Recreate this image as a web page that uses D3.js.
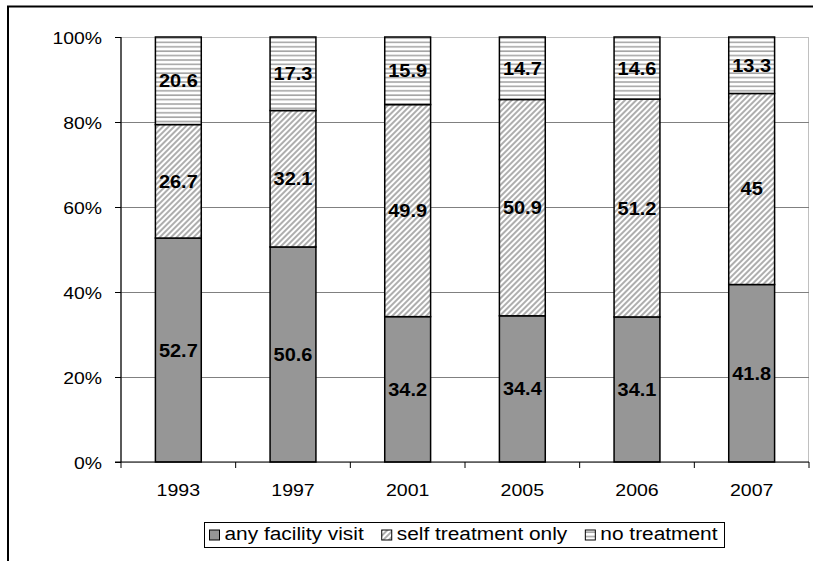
<!DOCTYPE html>
<html>
<head>
<meta charset="utf-8">
<script src="https://cdn.jsdelivr.net/npm/d3@7"></script>
<style>
  html, body { margin: 0; padding: 0; background: #fff; }
  svg text { font-family: "Liberation Sans", Arial, sans-serif; fill: #000; }
</style>
</head>
<body>
<svg id="chart" width="813" height="561"></svg>
<script>
// Survey years and the share of episodes by treatment type (percent)
const years = ["1993", "1997", "2001", "2005", "2006", "2007"];
const facilityVisit = [52.7, 50.6, 34.2, 34.4, 34.1, 41.8];
const selfTreatment = [26.7, 32.1, 49.9, 50.9, 51.2, 45];
const noTreatment = [20.6, 17.3, 15.9, 14.7, 14.6, 13.3];
const seriesNames = ["any facility visit", "self treatment only", "no treatment"];
const yTicks = [0, 0.2, 0.4, 0.6, 0.8, 1.0];

const svg = d3.select("#chart");
const margin = { left: 121, right: 4, top: 37, bottom: 99 };
const W = 813, H = 561;
const plotW = W - margin.left - margin.right;
const plotH = H - margin.top - margin.bottom;

// Hatch patterns
const defs = svg.append("defs");
const diag = defs.append("pattern")
  .attr("id", "hatch-diag").attr("patternUnits", "userSpaceOnUse")
  .attr("width", 4).attr("height", 4)
  .attr("patternTransform", "rotate(45)");
diag.append("rect").attr("width", 4).attr("height", 4).attr("fill", "#fff");
diag.append("line").attr("x1", 1).attr("y1", 0).attr("x2", 1).attr("y2", 4)
  .attr("stroke", "#9a9a9a").attr("stroke-width", 1.6);

const horiz = defs.append("pattern")
  .attr("id", "hatch-horiz").attr("patternUnits", "userSpaceOnUse")
  .attr("width", 8).attr("height", 4.4);
horiz.append("rect").attr("width", 8).attr("height", 4.4).attr("fill", "#fff");
horiz.append("line").attr("x1", 0).attr("y1", 1).attr("x2", 8).attr("y2", 1)
  .attr("stroke", "#a6a6a6").attr("stroke-width", 1.6);

const fills = ["#969696", "url(#hatch-diag)", "url(#hatch-horiz)"];

// Outer frame
svg.append("rect").attr("x", 8).attr("y", 6.5).attr("width", 830).attr("height", 600)
  .attr("fill", "none").attr("stroke", "#000").attr("stroke-width", 2);

const g = svg.append("g").attr("transform", `translate(${margin.left},${margin.top})`);

const x = d3.scaleBand().domain(years).range([0, plotW]).paddingInner(0.6).paddingOuter(0.3);
const y = d3.scaleLinear().domain([0, 1]).range([plotH, 0]);

// Plot-area border (top/right) and gridlines
g.append("rect").attr("x", 0).attr("y", 0.5).attr("width", plotW - 0.5).attr("height", plotH)
  .attr("fill", "none").attr("stroke", "#c0c0c0").attr("stroke-width", 1);
g.selectAll("line.grid").data(yTicks.filter(t => t > 0 && t < 1)).join("line")
  .attr("class", "grid")
  .attr("x1", 0).attr("x2", plotW)
  .attr("y1", d => Math.round(y(d)) + 0.5).attr("y2", d => Math.round(y(d)) + 0.5)
  .attr("stroke", "#808080").attr("stroke-width", 1);

// Stacked, normalised to 100%
const rows = years.map((yr, i) => {
  const vals = [facilityVisit[i], selfTreatment[i], noTreatment[i]];
  const total = d3.sum(vals);
  let acc = 0;
  return vals.map((v, k) => {
    const seg = { year: yr, k, value: v, y0: acc / total, y1: (acc + v) / total };
    acc += v;
    return seg;
  });
}).flat();

g.selectAll("rect.bar").data(rows).join("rect")
  .attr("class", "bar")
  .attr("x", d => x(d.year))
  .attr("width", x.bandwidth())
  .attr("y", d => y(d.y1))
  .attr("height", d => y(d.y0) - y(d.y1))
  .attr("fill", d => fills[d.k])
  .attr("stroke", "#000").attr("stroke-width", 1.5);

// Value labels
g.selectAll("text.val").data(rows).join("text")
  .attr("class", "val")
  .attr("transform", d => `translate(${x(d.year) + x.bandwidth() / 2},${(y(d.y0) + y(d.y1)) / 2 + 6.5}) scale(1.08,1)`)
  .attr("text-anchor", "middle")
  .style("font-weight", "bold").style("font-size", "18.5px")
  .text(d => String(d.value));

// Y axis
const yAxis = d3.axisLeft(y).tickValues(yTicks).tickSize(6).tickFormat(d3.format(".0%"));
const ya = g.append("g").call(yAxis);
ya.select(".domain").attr("stroke", "#000").attr("stroke-width", 1.2).attr("d", `M0,0V${plotH}`);
ya.selectAll(".tick line").attr("stroke", "#000");
ya.selectAll(".tick text").remove();
ya.selectAll(".tick").append("text")
  .attr("transform", "translate(-19,6) scale(1.14,1)")
  .attr("text-anchor", "end")
  .style("font-size", "17px")
  .text(d => d3.format(".0%")(d));

// X axis: ticks at category boundaries
const xa = g.append("g").attr("transform", `translate(0,${plotH})`);
xa.append("line").attr("x1", -6).attr("x2", plotW).attr("y1", 0).attr("y2", 0)
  .attr("stroke", "#000").attr("stroke-width", 1.2);
const step = x.step();
const bounds = d3.range(years.length + 1).map(i => i * step);
xa.selectAll("line.tk").data(bounds).join("line").attr("class", "tk")
  .attr("x1", d => d).attr("x2", d => d).attr("y1", 0).attr("y2", 6)
  .attr("stroke", "#000").attr("stroke-width", 1);
xa.selectAll("text.cat").data(years).join("text").attr("class", "cat")
  .attr("transform", d => `translate(${x(d) + x.bandwidth() / 2},34) scale(1.15,1)`)
  .attr("text-anchor", "middle")
  .style("font-size", "17px")
  .text(d => d);

// Legend: items spread evenly across the box
const lg = svg.append("g");
const legBox = { x: 204.5, y: 522.5, w: 520, h: 25 };
lg.append("rect").attr("x", legBox.x).attr("y", legBox.y).attr("width", legBox.w).attr("height", legBox.h)
  .attr("fill", "#fff").attr("stroke", "#000").attr("stroke-width", 1);
const items = lg.selectAll("g.item").data(seriesNames).join("g").attr("class", "item");
items.append("rect").attr("width", 10).attr("height", 10).attr("y", -10)
  .attr("fill", (d, i) => fills[i]).attr("stroke", "#000").attr("stroke-width", 1);
items.append("text")
  .attr("transform", "translate(15,0) scale(1.16,1)")
  .style("font-size", "18px")
  .text(d => d);
const widths = [];
items.each(function () {
  widths.push(15 + d3.select(this).select("text").node().getComputedTextLength() * 1.16);
});
const padL = 5, padR = 7;
const gap = (legBox.w - padL - padR - d3.sum(widths)) / (widths.length - 1);
let cx = legBox.x + padL;
items.each(function (d, i) {
  d3.select(this).attr("transform", `translate(${cx},${legBox.y + 17.5})`);
  cx += widths[i] + gap;
});
</script>
</body>
</html>
